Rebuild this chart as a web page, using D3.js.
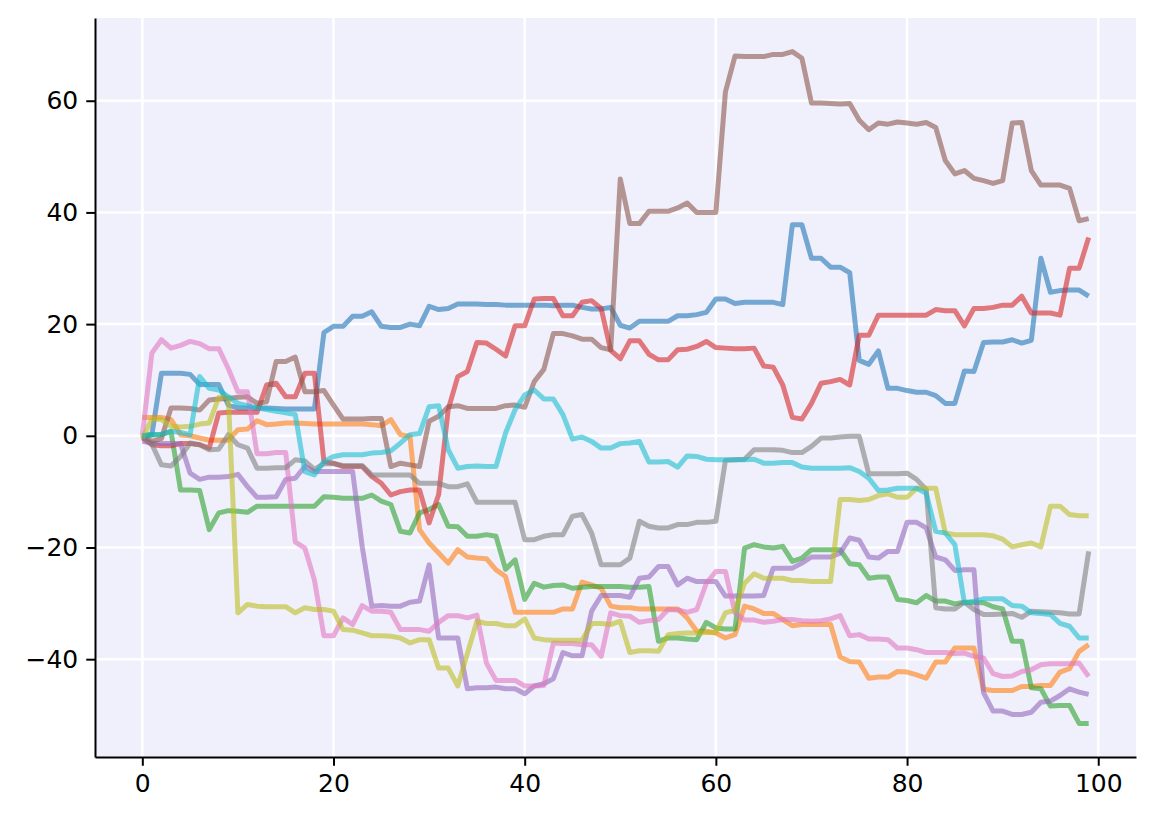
<!DOCTYPE html>
<html>
<head>
<meta charset="utf-8">
<script src="https://cdn.jsdelivr.net/npm/d3@7"></script>
<style>
  body { margin: 0; background: #fff; }
  svg { display: block; font-family: "DejaVu Sans", sans-serif; }
</style>
</head>
<body>
<svg id="chart" width="1155" height="822"></svg>
<script>
// ten random-walk series, 100 steps each
const blue = [0, 0.2, 11.2, 11.2, 11.2, 11.0, 9.2, 9.2, 9.2, 5.5, 5.0, 5.0, 5.0, 5.0, 4.9, 4.8, 4.8, 4.8, 4.8, 18.5,
  19.6, 19.6, 21.4, 21.4, 22.2, 19.6, 19.4, 19.4, 20.0, 19.7, 23.2, 22.6, 22.8, 23.6, 23.6, 23.6, 23.5, 23.5, 23.4, 23.4,
  23.4, 23.4, 23.4, 23.3, 23.4, 23.4, 23.0, 22.7, 22.7, 23.0, 19.8, 19.3, 20.5, 20.5, 20.5, 20.5, 21.5, 21.5, 21.7, 22.1,
  24.5, 24.5, 23.7, 23.9, 23.9, 23.9, 23.9, 23.5, 37.8, 37.8, 31.8, 31.8, 30.2, 30.2, 29.2, 13.5, 12.8, 15.2, 8.5, 8.5,
  8.1, 7.8, 7.8, 7.2, 5.8, 5.8, 11.6, 11.5, 16.7, 16.8, 16.8, 17.2, 16.6, 17.1, 31.8, 25.7, 26.0, 26.1, 26.1, 25.0];
const orange = [3.3, 3.3, 3.3, 2.9, 0.2, 0, -0.4, -0.8, -0.8, -0.8, 1.1, 1.2, 2.7, 2.0, 2.1, 2.3, 2.3, 2.2, 2.1, 2.1,
  2.1, 2.1, 2.1, 2.1, 2.0, 1.8, 2.9, 0.2, -0.1, -16.8, -19.2, -21.0, -22.8, -20.4, -21.7, -21.9, -22.0, -24.0, -25.2, -31.6,
  -31.6, -31.6, -31.6, -31.6, -31.0, -31.0, -26.2, -26.7, -27.3, -30.5, -30.8, -30.8, -31.0, -31.0, -31.0, -31.0, -31.0, -32.6, -35.0, -35.0,
  -35.3, -36.2, -35.6, -30.5, -31.0, -31.8, -31.8, -32.9, -34.0, -33.8, -33.8, -33.8, -33.8, -39.6, -40.4, -40.5, -43.4, -43.2, -43.2, -42.2,
  -42.3, -42.8, -43.4, -40.5, -40.5, -38.0, -38.0, -38.0, -45.4, -45.6, -45.6, -45.6, -44.9, -44.9, -44.7, -44.7, -42.3, -41.7, -38.6, -37.4];
const green = [0, 0.2, 0.2, 0.8, -9.7, -9.7, -9.8, -16.8, -13.8, -13.4, -13.5, -13.7, -12.6, -12.6, -12.6, -12.6, -12.6, -12.6, -12.6, -10.9,
  -11.0, -11.2, -11.2, -11.2, -10.6, -11.7, -12.3, -17.1, -17.4, -13.8, -13.2, -12.3, -16.2, -16.3, -18.0, -18.0, -17.7, -18.0, -23.9, -22.2,
  -29.3, -26.4, -27.1, -26.8, -26.7, -27.3, -27.1, -27.0, -27.0, -27.0, -27.0, -27.1, -27.1, -27.0, -36.8, -36.2, -36.2, -36.4, -36.5, -33.4,
  -34.4, -34.6, -34.6, -20.1, -19.5, -19.9, -20.1, -19.8, -22.5, -21.9, -20.4, -20.4, -20.4, -20.4, -22.9, -23.1, -25.5, -25.3, -25.3, -29.3,
  -29.5, -29.9, -28.6, -29.6, -29.6, -30.1, -29.8, -29.9, -29.9, -30.6, -31.0, -36.8, -36.8, -45.1, -45.3, -48.4, -48.3, -48.3, -51.5, -51.5];
const red = [-0.4, -1.6, -1.8, -1.8, -1.4, -1.4, -1.6, -2.2, 4.1, 4.2, 4.2, 4.2, 4.2, 9.1, 9.4, 7.0, 7.0, 11.2, 11.2, -4.6,
  -4.9, -5.5, -5.5, -5.5, -7.3, -8.5, -10.6, -10.0, -9.7, -9.7, -15.6, -10.5, 4.7, 10.6, 11.5, 16.7, 16.6, 15.5, 14.3, 19.7,
  19.7, 24.5, 24.6, 24.6, 21.5, 21.5, 23.9, 24.2, 22.8, 15.3, 13.8, 17.0, 17.0, 14.6, 13.6, 13.6, 15.4, 15.5, 16.0, 16.9,
  15.8, 15.7, 15.6, 15.6, 15.7, 12.5, 12.3, 9.1, 3.3, 3.0, 5.8, 9.4, 9.7, 10.1, 9.1, 18.0, 18.0, 21.6, 21.6, 21.6,
  21.6, 21.6, 21.6, 22.6, 22.4, 22.4, 19.7, 22.8, 22.8, 23.0, 23.4, 23.4, 25.0, 22.0, 22.0, 22.0, 21.6, 30.0, 30.0, 35.5];
const purple = [-1.0, -1.3, -1.4, -1.4, -1.4, -6.7, -7.8, -7.4, -7.4, -7.3, -6.9, -9.1, -11.0, -11.0, -10.9, -7.8, -7.6, -5.5, -6.4, -6.4,
  -6.4, -6.4, -6.4, -19.8, -30.5, -30.4, -30.5, -30.5, -29.8, -29.6, -23.1, -36.2, -36.2, -36.2, -45.3, -45.1, -45.1, -45.0, -45.3, -45.3,
  -46.2, -44.8, -44.4, -43.5, -38.8, -39.4, -39.4, -31.4, -28.6, -28.6, -28.6, -28.9, -25.5, -25.3, -23.4, -23.4, -26.7, -25.5, -26.1, -26.1,
  -26.1, -28.7, -28.7, -28.7, -28.7, -28.6, -23.7, -23.7, -23.7, -22.8, -21.7, -21.7, -21.7, -21.0, -18.3, -18.7, -21.7, -21.9, -20.7, -20.7,
  -15.5, -15.5, -16.5, -21.7, -22.2, -24.1, -24.0, -24.0, -46.0, -49.3, -49.3, -49.9, -49.9, -49.5, -47.7, -47.5, -46.5, -45.3, -45.9, -46.3];
const brown = [0, -1.0, -0.5, 5.0, 5.0, 4.9, 4.6, 6.4, 6.6, 6.7, 6.9, 7.0, 5.8, 6.1, 13.3, 13.3, 14.1, 7.9, 7.9, 8.1,
  5.5, 3.0, 3.0, 3.0, 3.1, 3.1, -5.5, -4.9, -5.2, -5.5, 2.6, 3.5, 5.2, 5.4, 4.9, 4.9, 4.9, 4.9, 5.4, 5.5,
  5.1, 9.7, 11.9, 18.3, 18.3, 17.9, 17.3, 17.3, 15.8, 15.4, 46.0, 38.0, 38.0, 40.2, 40.2, 40.2, 40.8, 41.7, 40.0, 40.0,
  40.0, 61.6, 68.0, 67.9, 67.9, 67.9, 68.3, 68.3, 68.8, 67.6, 59.6, 59.6, 59.5, 59.4, 59.5, 56.5, 54.8, 56.0, 55.8, 56.2,
  56.0, 55.8, 56.1, 55.2, 49.3, 46.9, 47.5, 46.1, 45.7, 45.2, 45.7, 56.0, 56.1, 47.5, 44.9, 44.9, 44.9, 44.3, 38.5, 38.9];
const pink = [0, 14.8, 17.2, 15.7, 16.2, 16.9, 16.5, 15.6, 15.6, 12.0, 7.9, 7.9, -3.2, -3.2, -3.0, -3.0, -19.0, -20.1, -25.8, -35.8,
  -35.8, -32.6, -33.8, -30.4, -31.4, -31.4, -31.6, -34.7, -34.7, -34.7, -35.0, -33.4, -32.2, -32.2, -32.6, -32.1, -40.7, -43.8, -43.8, -43.8,
  -44.8, -44.8, -44.7, -37.1, -37.2, -37.2, -37.4, -37.4, -39.5, -31.7, -32.2, -32.3, -33.4, -33.1, -32.9, -31.1, -31.2, -31.6, -31.1, -26.4,
  -24.3, -24.3, -31.7, -33.0, -33.0, -33.4, -33.2, -32.9, -32.9, -33.1, -33.2, -33.1, -32.8, -32.2, -35.8, -35.6, -36.4, -36.4, -36.5, -38.0,
  -38.0, -38.3, -38.8, -38.8, -38.8, -39.0, -38.9, -39.5, -39.8, -42.6, -43.1, -43.0, -42.2, -41.9, -41.0, -40.8, -40.8, -40.8, -40.7, -43.1];
const gray = [0, -1.5, -5.2, -5.4, -3.7, -1.3, -1.6, -2.5, -2.4, 0.2, -1.6, -2.2, -5.8, -5.8, -5.7, -5.7, -4.3, -4.5, -6.0, -5.0,
  -5.0, -5.3, -5.3, -5.3, -7.0, -7.0, -7.0, -7.0, -7.0, -8.5, -8.5, -8.5, -9.1, -9.1, -8.6, -11.9, -11.9, -11.9, -11.9, -11.9,
  -18.6, -18.6, -18.0, -17.7, -17.7, -14.4, -14.1, -17.4, -23.1, -23.1, -23.1, -21.9, -15.3, -16.2, -16.5, -16.5, -15.9, -15.9, -15.5, -15.5,
  -15.3, -4.4, -4.3, -4.2, -2.5, -2.5, -2.5, -2.6, -3.0, -3.0, -1.9, -0.4, -0.4, -0.2, -0.1, -0.1, -6.8, -6.8, -6.8, -6.8,
  -6.7, -7.8, -9.6, -30.8, -31.0, -31.0, -29.8, -31.1, -32.0, -32.0, -31.9, -31.8, -32.5, -31.4, -31.5, -31.6, -31.7, -31.9, -31.9, -20.7];
const olive = [-0.4, 3.0, 2.9, 1.7, 1.6, 1.7, 2.1, 2.3, 6.9, 6.9, -31.7, -30.2, -30.5, -30.6, -30.6, -30.6, -31.7, -30.8, -31.1, -31.1,
  -31.4, -34.7, -34.8, -35.3, -35.8, -35.8, -35.9, -36.2, -37.1, -36.5, -36.5, -41.6, -41.6, -44.8, -39.0, -33.2, -33.6, -33.6, -34.0, -34.0,
  -32.8, -36.2, -36.5, -36.6, -36.6, -36.6, -36.6, -33.6, -33.6, -33.8, -33.2, -38.8, -38.5, -38.5, -38.6, -35.6, -35.4, -35.3, -35.3, -35.2,
  -35.2, -31.7, -31.2, -26.4, -24.7, -25.5, -25.5, -25.5, -25.9, -25.9, -26.1, -26.1, -26.1, -11.4, -11.4, -11.6, -11.4, -10.7, -10.4, -11.0,
  -11.0, -9.4, -9.4, -9.4, -17.4, -17.7, -17.7, -17.7, -17.7, -17.9, -18.5, -19.9, -19.5, -19.2, -19.9, -12.6, -12.6, -14.1, -14.3, -14.3];
const cyan = [0, 0.2, 0.3, 0.8, 0.6, 0.2, 10.6, 8.5, 8.2, 7.0, 5.8, 5.4, 5.0, 4.7, 4.4, 4.1, 3.8, -6.4, -7.0, -4.6,
  -3.7, -3.4, -3.4, -3.4, -3.1, -3.0, -2.7, -1.3, 0.2, 0.4, 5.2, 5.4, -2.5, -5.8, -5.5, -5.4, -5.5, -5.5, 0.5, 4.7,
  7.3, 8.2, 6.6, 6.6, 3.8, -0.6, -0.2, -1.0, -2.2, -2.2, -1.4, -1.3, -1.0, -4.7, -4.7, -4.6, -5.6, -3.6, -3.7, -4.2,
  -4.3, -4.3, -4.3, -4.3, -4.2, -4.9, -4.9, -4.8, -4.8, -5.6, -5.8, -5.8, -5.8, -5.8, -5.7, -6.4, -7.6, -9.8, -9.7, -9.4,
  -9.4, -9.4, -10.3, -17.1, -17.4, -19.5, -29.9, -29.6, -29.2, -29.2, -29.2, -30.4, -30.5, -31.7, -31.8, -32.0, -33.6, -34.1, -36.2, -36.2];

const seriesList = [blue, orange, green, red, purple, brown, pink, gray, olive, cyan];
const colors = ["#1f77b4", "#ff7f0e", "#2ca02c", "#d62728", "#9467bd",
                "#8c564b", "#e377c2", "#7f7f7f", "#bcbd22", "#17becf"];
const xTicks = [0, 20, 40, 60, 80, 100];
const yTicks = [-40, -20, 0, 20, 40, 60];

const svg = d3.select("#chart");
const margin = { left: 95, right: 19, top: 18, bottom: 65 };
const W = +svg.attr("width"), H = +svg.attr("height");
const width = W - margin.left - margin.right;
const height = H - margin.top - margin.bottom;

// matplotlib style 5% padding around the data
const n = blue.length;
const allVals = seriesList.flat();
const yMin = d3.min(allVals), yMax = d3.max(allVals);
const xPad = (n - 1) * 0.05, yPad = (yMax - yMin) * 0.05;

const x = d3.scaleLinear().domain([-xPad, n - 1 + xPad]).range([0, width]);
const y = d3.scaleLinear().domain([yMin - yPad, yMax + yPad]).range([height, 0]);

const g = svg.append("g").attr("transform", `translate(${margin.left},${margin.top})`);

g.append("rect")
    .attr("width", width)
    .attr("height", height)
    .attr("fill", "#f0f0fc");

// white grid
g.append("g")
    .selectAll("line.vgrid")
    .data(xTicks)
    .join("line")
    .attr("x1", d => x(d)).attr("x2", d => x(d))
    .attr("y1", 0).attr("y2", height)
    .attr("stroke", "#fff")
    .attr("stroke-width", 2.5);

g.append("g")
    .selectAll("line.hgrid")
    .data(yTicks)
    .join("line")
    .attr("x1", 0).attr("x2", width)
    .attr("y1", d => y(d)).attr("y2", d => y(d))
    .attr("stroke", "#fff")
    .attr("stroke-width", 2.5);

// the walks
const line = d3.line()
    .x((d, i) => x(i))
    .y(d => y(d));

g.append("g")
    .selectAll("path")
    .data(seriesList)
    .join("path")
    .attr("d", line)
    .attr("fill", "none")
    .attr("stroke", (d, i) => colors[i])
    .attr("stroke-opacity", 0.6)
    .attr("stroke-width", 5)
    .attr("stroke-linejoin", "round");

// axes, only left and bottom spines
const fmt = d => (d < 0 ? "\u2212" + Math.abs(d) : String(d));

const xAxis = g.append("g")
    .attr("transform", `translate(0,${height})`)
    .call(d3.axisBottom(x).tickValues(xTicks).tickFormat(fmt).tickSizeInner(8.75).tickSizeOuter(0).tickPadding(8));

const yAxis = g.append("g")
    .call(d3.axisLeft(y).tickValues(yTicks).tickFormat(fmt).tickSizeInner(8.75).tickSizeOuter(0).tickPadding(8));

[xAxis, yAxis].forEach(ax => {
    ax.select(".domain").attr("stroke", "#000").attr("stroke-width", 2);
    ax.selectAll(".tick line").attr("stroke", "#000").attr("stroke-width", 2);
    ax.selectAll(".tick text")
        .attr("fill", "#000")
        .style("font-size", "25px")
        .style("font-family", "'DejaVu Sans', sans-serif");
});
</script>
</body>
</html>
